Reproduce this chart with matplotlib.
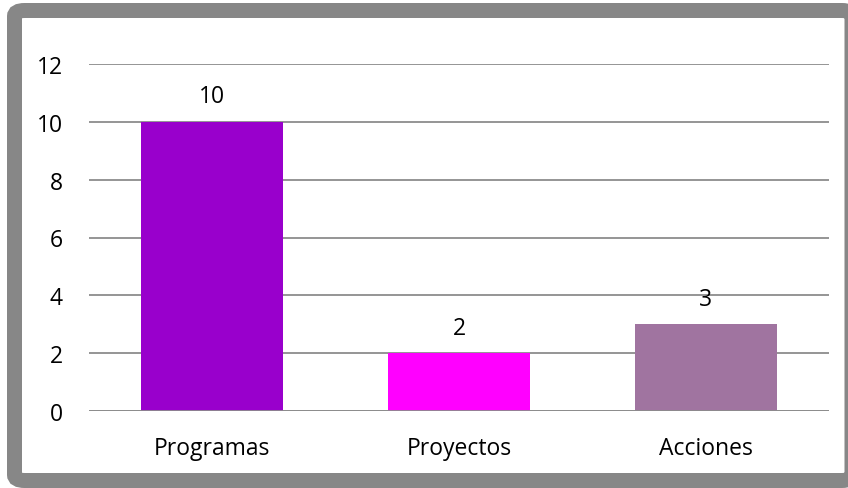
import matplotlib
matplotlib.use("Agg")
import matplotlib.pyplot as plt
from matplotlib.patches import FancyBboxPatch

# chart data
categories = ["Programas", "Proyectos", "Acciones"]
values = [10, 2, 3]
bar_colors = ["#9900CC", "#FF00FF", "#A074A0"]
yticks = [0, 2, 4, 6, 8, 10, 12]

plt.rcParams['font.family'] = ['Open Sans', 'DejaVu Sans']

W, H = 848, 489
fig = plt.figure(figsize=(W / 100, H / 100), dpi=100)

# thick gray frame with rounded corners (Excel chart area)
frame = FancyBboxPatch((14.5 / W, 1 - 481.5 / H), (852 - 14.5) / W, (481.5 - 11.5) / H,
                       boxstyle="round,pad=0,rounding_size=0.012",
                       transform=fig.transFigure, facecolor="white",
                       edgecolor="#878787", linewidth=10.8, zorder=-1)
fig.patches.append(frame)

# plot area in pixel coordinates
x0, x1 = 89, 829
y_top, y_bot = 65, 412
ax = fig.add_axes([x0 / W, 1 - y_bot / H, (x1 - x0) / W, (y_bot - y_top) / H])
ax.set_facecolor("none")
ax.set_zorder(1)

pos = range(len(categories))
bars = ax.bar(pos, values, width=0.575, color=bar_colors, zorder=2)
ax.set_xlim(-0.5, len(categories) - 0.5)
ax.set_ylim(0, 12)
ax.set_yticks(yticks)
ax.set_xticks(list(pos))
ax.set_xticklabels(categories)

ax.grid(axis="y", color="#8c8c8c", linewidth=1.3, zorder=1)
ax.axhline(0, color="#8c8c8c", linewidth=1.3, zorder=3)
for s in ax.spines.values():
    s.set_visible(False)
ax.tick_params(axis="both", length=0, labelsize=16.5, colors="black")
ax.tick_params(axis="x", pad=18)
ax.tick_params(axis="y", pad=19)

for b, v in zip(bars, values):
    ax.text(b.get_x() + b.get_width() / 2, v + 0.88, str(v),
            ha="center", va="center", fontsize=16.5, zorder=4)

fig.savefig("out.png", dpi=100)
